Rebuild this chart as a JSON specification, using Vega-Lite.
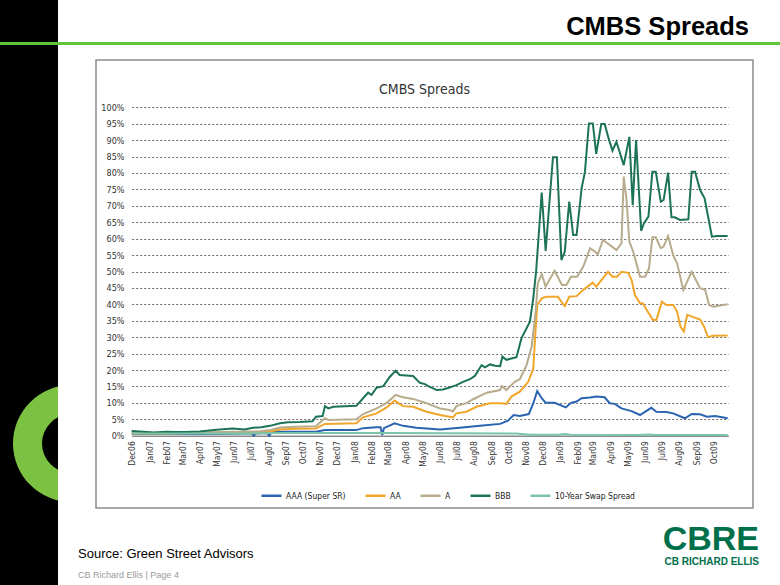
{
"$schema":"https://vega.github.io/schema/vega-lite/v6.json",
"background":"white",
"padding":0,
"spacing":0,
"bounds":"flush",
"config":{"view":{"stroke":null},"font":"Liberation Sans"},
"vconcat":[
{"width":58,"height":42,"view":{"fill":"#000000","stroke":null},"data":{"values":[{}]},"mark":{"type":"text","text":""}},
{"width":780,"height":3,"view":{"fill":"#5ec63a","stroke":null},"data":{"values":[{}]},"mark":{"type":"text","text":""},
 "title":{"text":"CMBS Spreads","orient":"top","anchor":"end","dx":-31,"offset":-3,"fontSize":25.5,"fontWeight":"bold","font":"Liberation Sans","color":"#000000"}},
{"width":58,"height":15,"view":{"fill":"#000000","stroke":null},"data":{"values":[{}]},"mark":{"type":"text","text":""}},
{"hconcat":[
 {"width":58,"height":525,"view":{"fill":"#000000","stroke":null},"data":{"values":[{}]},
  "mark":{"type":"arc","x":71.5,"y":383.5,"radius":58.5,"radius2":29.5,"theta":0,"theta2":6.2832,"color":"#7cc242","clip":true},"encoding":{}},
 {"vconcat":[
  {"width":657,"height":448,"view":{"fill":"white","stroke":"#8c8c8c","strokeWidth":1.5},
   "title":{"text":"CMBS Spreads","orient":"top","anchor":"middle","offset":-37,"fontSize":14,"fontWeight":"normal","font":"Liberation Sans Narrow, Arial Narrow, DejaVu Sans Condensed, sans-serif","color":"#333333"},
   "data":{"values":[
{"date":"2006-12-01","series":"AAA (Super SR)","value":0.005},{"date":"2007-02-01","series":"AAA (Super SR)","value":0.005},{"date":"2007-04-01","series":"AAA (Super SR)","value":0.005},{"date":"2007-05-25","series":"AAA (Super SR)","value":0.006},{"date":"2007-06-20","series":"AAA (Super SR)","value":0.007},{"date":"2007-07-03","series":"AAA (Super SR)","value":0.007},{"date":"2007-07-06","series":"AAA (Super SR)","value":0.0},{"date":"2007-07-10","series":"AAA (Super SR)","value":0.007},{"date":"2007-07-30","series":"AAA (Super SR)","value":0.008},{"date":"2007-08-03","series":"AAA (Super SR)","value":0.0},{"date":"2007-08-07","series":"AAA (Super SR)","value":0.012},{"date":"2007-09-15","series":"AAA (Super SR)","value":0.012},{"date":"2007-10-25","series":"AAA (Super SR)","value":0.012},{"date":"2007-11-10","series":"AAA (Super SR)","value":0.017},{"date":"2008-01-05","series":"AAA (Super SR)","value":0.017},{"date":"2008-01-17","series":"AAA (Super SR)","value":0.023},{"date":"2008-02-10","series":"AAA (Super SR)","value":0.026},{"date":"2008-02-17","series":"AAA (Super SR)","value":0.026},{"date":"2008-02-20","series":"AAA (Super SR)","value":0.002},{"date":"2008-02-23","series":"AAA (Super SR)","value":0.023},{"date":"2008-03-13","series":"AAA (Super SR)","value":0.038},{"date":"2008-03-28","series":"AAA (Super SR)","value":0.030},{"date":"2008-04-21","series":"AAA (Super SR)","value":0.024},{"date":"2008-06-02","series":"AAA (Super SR)","value":0.019},{"date":"2008-07-07","series":"AAA (Super SR)","value":0.024},{"date":"2008-08-12","series":"AAA (Super SR)","value":0.030},{"date":"2008-09-17","series":"AAA (Super SR)","value":0.036},{"date":"2008-10-01","series":"AAA (Super SR)","value":0.046},{"date":"2008-10-11","series":"AAA (Super SR)","value":0.063},{"date":"2008-10-22","series":"AAA (Super SR)","value":0.060},{"date":"2008-11-07","series":"AAA (Super SR)","value":0.066},{"date":"2008-11-15","series":"AAA (Super SR)","value":0.099},{"date":"2008-11-22","series":"AAA (Super SR)","value":0.136},{"date":"2008-11-30","series":"AAA (Super SR)","value":0.114},{"date":"2008-12-07","series":"AAA (Super SR)","value":0.100},{"date":"2008-12-23","series":"AAA (Super SR)","value":0.100},{"date":"2009-01-12","series":"AAA (Super SR)","value":0.086},{"date":"2009-01-21","series":"AAA (Super SR)","value":0.100},{"date":"2009-01-31","series":"AAA (Super SR)","value":0.104},{"date":"2009-02-09","series":"AAA (Super SR)","value":0.114},{"date":"2009-02-24","series":"AAA (Super SR)","value":0.116},{"date":"2009-03-07","series":"AAA (Super SR)","value":0.119},{"date":"2009-03-22","series":"AAA (Super SR)","value":0.117},{"date":"2009-03-31","series":"AAA (Super SR)","value":0.099},{"date":"2009-04-09","series":"AAA (Super SR)","value":0.097},{"date":"2009-04-21","series":"AAA (Super SR)","value":0.083},{"date":"2009-05-09","series":"AAA (Super SR)","value":0.075},{"date":"2009-05-24","series":"AAA (Super SR)","value":0.063},{"date":"2009-06-13","series":"AAA (Super SR)","value":0.085},{"date":"2009-06-22","series":"AAA (Super SR)","value":0.073},{"date":"2009-07-10","series":"AAA (Super SR)","value":0.072},{"date":"2009-07-22","series":"AAA (Super SR)","value":0.068},{"date":"2009-08-12","series":"AAA (Super SR)","value":0.053},{"date":"2009-08-24","series":"AAA (Super SR)","value":0.066},{"date":"2009-09-08","series":"AAA (Super SR)","value":0.065},{"date":"2009-09-20","series":"AAA (Super SR)","value":0.058},{"date":"2009-10-05","series":"AAA (Super SR)","value":0.060},{"date":"2009-10-27","series":"AAA (Super SR)","value":0.053},
{"date":"2006-12-01","series":"AA","value":0.007},{"date":"2007-02-01","series":"AA","value":0.007},{"date":"2007-04-01","series":"AA","value":0.009},{"date":"2007-06-01","series":"AA","value":0.010},{"date":"2007-07-15","series":"AA","value":0.011},{"date":"2007-08-04","series":"AA","value":0.013},{"date":"2007-08-22","series":"AA","value":0.019},{"date":"2007-09-20","series":"AA","value":0.021},{"date":"2007-10-25","series":"AA","value":0.022},{"date":"2007-11-10","series":"AA","value":0.036},{"date":"2008-01-05","series":"AA","value":0.038},{"date":"2008-01-17","series":"AA","value":0.056},{"date":"2008-02-10","series":"AA","value":0.068},{"date":"2008-02-28","series":"AA","value":0.086},{"date":"2008-03-13","series":"AA","value":0.107},{"date":"2008-03-28","series":"AA","value":0.090},{"date":"2008-04-15","series":"AA","value":0.088},{"date":"2008-05-09","series":"AA","value":0.073},{"date":"2008-06-02","series":"AA","value":0.063},{"date":"2008-06-19","series":"AA","value":0.058},{"date":"2008-06-25","series":"AA","value":0.056},{"date":"2008-07-01","series":"AA","value":0.068},{"date":"2008-07-19","series":"AA","value":0.073},{"date":"2008-08-06","series":"AA","value":0.088},{"date":"2008-08-30","series":"AA","value":0.099},{"date":"2008-09-17","series":"AA","value":0.099},{"date":"2008-09-28","series":"AA","value":0.097},{"date":"2008-10-07","series":"AA","value":0.119},{"date":"2008-10-22","series":"AA","value":0.134},{"date":"2008-11-06","series":"AA","value":0.164},{"date":"2008-11-15","series":"AA","value":0.205},{"date":"2008-11-19","series":"AA","value":0.322},{"date":"2008-11-22","series":"AA","value":0.398},{"date":"2008-11-30","series":"AA","value":0.418},{"date":"2008-12-08","series":"AA","value":0.423},{"date":"2008-12-29","series":"AA","value":0.423},{"date":"2009-01-02","series":"AA","value":0.413},{"date":"2009-01-10","series":"AA","value":0.395},{"date":"2009-01-18","series":"AA","value":0.423},{"date":"2009-01-31","series":"AA","value":0.425},{"date":"2009-02-12","series":"AA","value":0.444},{"date":"2009-03-01","series":"AA","value":0.466},{"date":"2009-03-07","series":"AA","value":0.454},{"date":"2009-03-28","series":"AA","value":0.499},{"date":"2009-04-05","series":"AA","value":0.484},{"date":"2009-04-13","series":"AA","value":0.484},{"date":"2009-04-21","series":"AA","value":0.499},{"date":"2009-05-03","series":"AA","value":0.496},{"date":"2009-05-09","series":"AA","value":0.474},{"date":"2009-05-15","series":"AA","value":0.428},{"date":"2009-05-24","series":"AA","value":0.403},{"date":"2009-05-29","series":"AA","value":0.403},{"date":"2009-06-05","series":"AA","value":0.383},{"date":"2009-06-16","series":"AA","value":0.352},{"date":"2009-06-22","series":"AA","value":0.352},{"date":"2009-07-02","series":"AA","value":0.408},{"date":"2009-07-10","series":"AA","value":0.398},{"date":"2009-07-22","series":"AA","value":0.398},{"date":"2009-07-29","series":"AA","value":0.378},{"date":"2009-08-04","series":"AA","value":0.332},{"date":"2009-08-10","series":"AA","value":0.317},{"date":"2009-08-16","series":"AA","value":0.368},{"date":"2009-08-27","series":"AA","value":0.361},{"date":"2009-09-08","series":"AA","value":0.354},{"date":"2009-09-15","series":"AA","value":0.332},{"date":"2009-09-22","series":"AA","value":0.300},{"date":"2009-10-01","series":"AA","value":0.304},{"date":"2009-10-27","series":"AA","value":0.305},
{"date":"2006-12-01","series":"A","value":0.009},{"date":"2007-02-01","series":"A","value":0.009},{"date":"2007-04-01","series":"A","value":0.010},{"date":"2007-06-01","series":"A","value":0.012},{"date":"2007-07-15","series":"A","value":0.013},{"date":"2007-08-04","series":"A","value":0.017},{"date":"2007-08-22","series":"A","value":0.025},{"date":"2007-09-20","series":"A","value":0.027},{"date":"2007-10-25","series":"A","value":0.029},{"date":"2007-11-10","series":"A","value":0.053},{"date":"2007-11-16","series":"A","value":0.048},{"date":"2008-01-05","series":"A","value":0.050},{"date":"2008-01-17","series":"A","value":0.066},{"date":"2008-02-10","series":"A","value":0.083},{"date":"2008-02-28","series":"A","value":0.100},{"date":"2008-03-15","series":"A","value":0.124},{"date":"2008-03-28","series":"A","value":0.117},{"date":"2008-04-15","series":"A","value":0.112},{"date":"2008-05-09","series":"A","value":0.099},{"date":"2008-06-02","series":"A","value":0.083},{"date":"2008-06-19","series":"A","value":0.078},{"date":"2008-06-25","series":"A","value":0.074},{"date":"2008-07-01","series":"A","value":0.090},{"date":"2008-07-19","series":"A","value":0.099},{"date":"2008-07-31","series":"A","value":0.111},{"date":"2008-08-24","series":"A","value":0.131},{"date":"2008-09-17","series":"A","value":0.139},{"date":"2008-09-20","series":"A","value":0.151},{"date":"2008-09-28","series":"A","value":0.139},{"date":"2008-10-13","series":"A","value":0.164},{"date":"2008-10-22","series":"A","value":0.172},{"date":"2008-11-03","series":"A","value":0.215},{"date":"2008-11-12","series":"A","value":0.271},{"date":"2008-11-19","series":"A","value":0.373},{"date":"2008-11-23","series":"A","value":0.464},{"date":"2008-11-30","series":"A","value":0.492},{"date":"2008-12-07","series":"A","value":0.454},{"date":"2008-12-23","series":"A","value":0.502},{"date":"2009-01-05","series":"A","value":0.459},{"date":"2009-01-13","series":"A","value":0.459},{"date":"2009-01-21","series":"A","value":0.484},{"date":"2009-02-01","series":"A","value":0.484},{"date":"2009-02-12","series":"A","value":0.515},{"date":"2009-02-24","series":"A","value":0.571},{"date":"2009-03-03","series":"A","value":0.563},{"date":"2009-03-10","series":"A","value":0.553},{"date":"2009-03-19","series":"A","value":0.596},{"date":"2009-03-31","series":"A","value":0.581},{"date":"2009-04-12","series":"A","value":0.565},{"date":"2009-04-21","series":"A","value":0.586},{"date":"2009-04-25","series":"A","value":0.789},{"date":"2009-04-30","series":"A","value":0.718},{"date":"2009-05-05","series":"A","value":0.591},{"date":"2009-05-12","series":"A","value":0.560},{"date":"2009-05-24","series":"A","value":0.484},{"date":"2009-06-02","series":"A","value":0.484},{"date":"2009-06-09","series":"A","value":0.510},{"date":"2009-06-15","series":"A","value":0.604},{"date":"2009-06-21","series":"A","value":0.604},{"date":"2009-06-30","series":"A","value":0.571},{"date":"2009-07-05","series":"A","value":0.576},{"date":"2009-07-13","series":"A","value":0.608},{"date":"2009-07-22","series":"A","value":0.550},{"date":"2009-07-29","series":"A","value":0.525},{"date":"2009-08-09","series":"A","value":0.444},{"date":"2009-08-24","series":"A","value":0.499},{"date":"2009-09-08","series":"A","value":0.449},{"date":"2009-09-17","series":"A","value":0.444},{"date":"2009-09-24","series":"A","value":0.398},{"date":"2009-10-01","series":"A","value":0.393},{"date":"2009-10-27","series":"A","value":0.400},
{"date":"2006-12-01","series":"BBB","value":0.014},{"date":"2006-12-22","series":"BBB","value":0.012},{"date":"2007-01-09","series":"BBB","value":0.010},{"date":"2007-02-01","series":"BBB","value":0.012},{"date":"2007-02-19","series":"BBB","value":0.011},{"date":"2007-03-05","series":"BBB","value":0.011},{"date":"2007-04-01","series":"BBB","value":0.013},{"date":"2007-05-01","series":"BBB","value":0.018},{"date":"2007-05-30","series":"BBB","value":0.022},{"date":"2007-06-20","series":"BBB","value":0.019},{"date":"2007-07-05","series":"BBB","value":0.024},{"date":"2007-07-20","series":"BBB","value":0.026},{"date":"2007-08-04","series":"BBB","value":0.030},{"date":"2007-08-22","series":"BBB","value":0.038},{"date":"2007-09-05","series":"BBB","value":0.041},{"date":"2007-09-26","series":"BBB","value":0.042},{"date":"2007-10-19","series":"BBB","value":0.044},{"date":"2007-10-25","series":"BBB","value":0.058},{"date":"2007-11-06","series":"BBB","value":0.060},{"date":"2007-11-10","series":"BBB","value":0.090},{"date":"2007-11-16","series":"BBB","value":0.083},{"date":"2007-11-25","series":"BBB","value":0.088},{"date":"2008-01-05","series":"BBB","value":0.091},{"date":"2008-01-17","series":"BBB","value":0.114},{"date":"2008-01-26","series":"BBB","value":0.131},{"date":"2008-02-01","series":"BBB","value":0.124},{"date":"2008-02-10","series":"BBB","value":0.146},{"date":"2008-02-22","series":"BBB","value":0.151},{"date":"2008-03-04","series":"BBB","value":0.178},{"date":"2008-03-15","series":"BBB","value":0.198},{"date":"2008-03-22","series":"BBB","value":0.185},{"date":"2008-04-15","series":"BBB","value":0.182},{"date":"2008-04-27","series":"BBB","value":0.161},{"date":"2008-05-06","series":"BBB","value":0.157},{"date":"2008-05-12","series":"BBB","value":0.151},{"date":"2008-05-27","series":"BBB","value":0.139},{"date":"2008-06-07","series":"BBB","value":0.141},{"date":"2008-06-19","series":"BBB","value":0.147},{"date":"2008-07-01","series":"BBB","value":0.154},{"date":"2008-07-13","series":"BBB","value":0.164},{"date":"2008-07-25","series":"BBB","value":0.172},{"date":"2008-08-03","series":"BBB","value":0.182},{"date":"2008-08-15","series":"BBB","value":0.215},{"date":"2008-08-21","series":"BBB","value":0.208},{"date":"2008-08-30","series":"BBB","value":0.217},{"date":"2008-09-08","series":"BBB","value":0.213},{"date":"2008-09-17","series":"BBB","value":0.212},{"date":"2008-09-21","series":"BBB","value":0.241},{"date":"2008-09-28","series":"BBB","value":0.231},{"date":"2008-10-16","series":"BBB","value":0.239},{"date":"2008-10-25","series":"BBB","value":0.297},{"date":"2008-11-09","series":"BBB","value":0.347},{"date":"2008-11-15","series":"BBB","value":0.420},{"date":"2008-11-20","series":"BBB","value":0.500},{"date":"2008-11-30","series":"BBB","value":0.740},{"date":"2008-12-07","series":"BBB","value":0.563},{"date":"2008-12-20","series":"BBB","value":0.848},{"date":"2008-12-27","series":"BBB","value":0.848},{"date":"2009-01-04","series":"BBB","value":0.535},{"date":"2009-01-10","series":"BBB","value":0.560},{"date":"2009-01-18","series":"BBB","value":0.713},{"date":"2009-01-25","series":"BBB","value":0.611},{"date":"2009-01-31","series":"BBB","value":0.611},{"date":"2009-02-09","series":"BBB","value":0.753},{"date":"2009-02-15","series":"BBB","value":0.804},{"date":"2009-02-22","series":"BBB","value":0.951},{"date":"2009-03-01","series":"BBB","value":0.951},{"date":"2009-03-07","series":"BBB","value":0.858},{"date":"2009-03-16","series":"BBB","value":0.949},{"date":"2009-03-22","series":"BBB","value":0.949},{"date":"2009-03-30","series":"BBB","value":0.900},{"date":"2009-04-05","series":"BBB","value":0.868},{"date":"2009-04-12","series":"BBB","value":0.895},{"date":"2009-04-25","series":"BBB","value":0.824},{"date":"2009-05-05","series":"BBB","value":0.910},{"date":"2009-05-11","series":"BBB","value":0.702},{"date":"2009-05-17","series":"BBB","value":0.900},{"date":"2009-05-26","series":"BBB","value":0.624},{"date":"2009-05-31","series":"BBB","value":0.647},{"date":"2009-06-08","series":"BBB","value":0.667},{"date":"2009-06-15","series":"BBB","value":0.804},{"date":"2009-06-21","series":"BBB","value":0.804},{"date":"2009-06-30","series":"BBB","value":0.713},{"date":"2009-07-05","series":"BBB","value":0.718},{"date":"2009-07-13","series":"BBB","value":0.801},{"date":"2009-07-19","series":"BBB","value":0.665},{"date":"2009-07-25","series":"BBB","value":0.665},{"date":"2009-08-03","series":"BBB","value":0.657},{"date":"2009-08-18","series":"BBB","value":0.659},{"date":"2009-08-24","series":"BBB","value":0.804},{"date":"2009-08-30","series":"BBB","value":0.804},{"date":"2009-09-08","series":"BBB","value":0.748},{"date":"2009-09-16","series":"BBB","value":0.723},{"date":"2009-09-29","series":"BBB","value":0.606},{"date":"2009-10-08","series":"BBB","value":0.608},{"date":"2009-10-27","series":"BBB","value":0.608},
{"date":"2006-12-01","series":"10-Year Swap Spread","value":0.007},{"date":"2007-06-01","series":"10-Year Swap Spread","value":0.007},{"date":"2007-09-01","series":"10-Year Swap Spread","value":0.008},{"date":"2008-03-01","series":"10-Year Swap Spread","value":0.008},{"date":"2008-10-15","series":"10-Year Swap Spread","value":0.007},{"date":"2008-11-10","series":"10-Year Swap Spread","value":0.003},{"date":"2008-12-31","series":"10-Year Swap Spread","value":0.003},{"date":"2009-01-10","series":"10-Year Swap Spread","value":0.005},{"date":"2009-01-20","series":"10-Year Swap Spread","value":0.003},{"date":"2009-05-20","series":"10-Year Swap Spread","value":0.002},{"date":"2009-06-10","series":"10-Year Swap Spread","value":0.004},{"date":"2009-06-20","series":"10-Year Swap Spread","value":0.002},{"date":"2009-10-27","series":"10-Year Swap Spread","value":0.002}
   ],"format":{"parse":{"date":"date:'%Y-%m-%d'"}}},
   "mark":{"type":"line","strokeWidth":2,"clip":false},
   "encoding":{
    "x":{"field":"date","type":"temporal",
      "scale":{"domain":[{"year":2006,"month":12,"date":1},{"year":2009,"month":10,"date":28}],"range":[35.7,632.2],"nice":false},
      "axis":{"title":null,"orient":"bottom","offset":-72.3,"format":"%b%y","tickCount":{"interval":"month","step":1},"labelAngle":-90,"labelFont":"Liberation Sans Narrow, Arial Narrow, DejaVu Sans Condensed, sans-serif","labelFontSize":8.5,"labelColor":"#333333","ticks":false,"tickSize":0,"labelPadding":5,"domainColor":"#8a8a8a","domainWidth":1.5,"grid":false,"labelOverlap":false,"labelFlush":false,"labelBound":false}},
    "y":{"field":"value","type":"quantitative",
      "scale":{"domain":[0,1],"range":[375.7,47.3],"nice":false,"zero":true},
      "axis":{"title":null,"orient":"left","offset":-31,"values":[0,0.05,0.1,0.15,0.2,0.25,0.3,0.35,0.4,0.45,0.5,0.55,0.6,0.65,0.7,0.75,0.8,0.85,0.9,0.95,1],"format":".0%","grid":true,"gridColor":"#6e6e6e","gridDash":[2,2],"gridWidth":1,"domain":false,"ticks":false,"tickSize":0,"labelPadding":3,"labelFont":"Liberation Sans Narrow, Arial Narrow, DejaVu Sans Condensed, sans-serif","labelFontSize":9,"labelColor":"#333333","labelFlush":false,"labelBound":false}},
    "color":{"field":"series","type":"nominal",
      "scale":{"domain":["AAA (Super SR)","AA","A","BBB","10-Year Swap Spread"],"range":["#2a64b0","#f0a62a","#b8ac8c","#1d7358","#7cc4a8"]},
      "legend":{"title":null,"orient":"none","legendX":260,"legendY":484,"direction":"horizontal","symbolType":"stroke","symbolStrokeWidth":2.5,"symbolSize":400,"labelFont":"Liberation Sans Narrow, Arial Narrow, DejaVu Sans Condensed, sans-serif","labelFontSize":8.5,"labelColor":"#222222","columnPadding":14,"labelOffset":3}}
   }
  },
  {"hconcat":[
   {"width":560,"height":77,"data":{"values":[{}]},"mark":{"type":"text","text":""},
    "title":{"text":"Source: Green Street Advisors","subtitle":"\u00a0\u00a0\u00a0CB Richard Ellis  |  Page 4","orient":"top","anchor":"start","offset":-72,"dx":-18,"fontSize":13,"fontWeight":"normal","font":"Liberation Sans","color":"#000000","subtitleFont":"Liberation Sans","subtitleFontSize":9,"subtitleColor":"#9a9a9a","subtitlePadding":10}},
   {"width":97,"height":77,"data":{"values":[{}]},"mark":{"type":"text","text":""},
    "title":{"text":"CBRE","subtitle":"CB RICHARD ELLIS","orient":"top","anchor":"end","offset":-59,"dx":6,"fontSize":34,"fontWeight":"bold","font":"Liberation Sans","color":"#00704a","subtitleFont":"Liberation Sans","subtitleFontSize":10,"subtitleFontWeight":"bold","subtitleColor":"#00704a","subtitlePadding":0}}
  ],"spacing":0,"bounds":"flush"}
 ],"spacing":0,"bounds":"flush"}
],"spacing":38,"bounds":"flush"}
]
}
